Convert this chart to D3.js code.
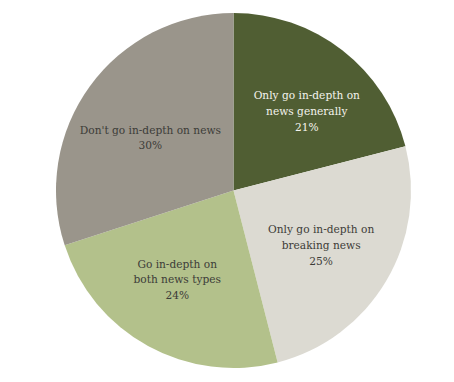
<!DOCTYPE html>
<html>
<head>
<meta charset="utf-8">
<script src="https://cdn.jsdelivr.net/npm/d3@7"></script>
<style>
  html, body { margin: 0; padding: 0; background: #ffffff; }
  svg { display: block; }
</style>
</head>
<body>
<svg id="chart" width="454" height="382"></svg>
<script>
const categories = [
  ["Only go in-depth on", "news generally"],
  ["Only go in-depth on", "breaking news"],
  ["Go in-depth on", "both news types"],
  ["Don't go in-depth on news"]
];
const values = [21, 25, 24, 30];
const colors = ["#505e33", "#dcdad2", "#b3c18b", "#9a958b"];
const textColors = ["#f4f4ee", "#3c3c38", "#3c3c38", "#3c3c38"];
// small label nudges (styling), in px
const labelNudge = [[8, 4], [-4, 0], [-5, -5], [3, 9]];

const W = 454, H = 382;
const cx = 233.5, cy = 190.5, R = 177.5;

const svg = d3.select("#chart");
const g = svg.append("g").attr("transform", `translate(${cx},${cy})`);

const data = values.map((v, i) => ({ value: v, label: categories[i], i }));
const pie = d3.pie().value(d => d.value).sort(null);
const arc = d3.arc().innerRadius(0).outerRadius(R);
const labelArc = d3.arc().innerRadius(0).outerRadius(R * 1.2);

const arcs = pie(data);

g.selectAll("path.slice").data(arcs).enter().append("path")
  .attr("class", "slice")
  .attr("d", arc)
  .attr("fill", d => colors[d.data.i]);

const lineH = 15.8;
const labels = g.selectAll("text.lbl").data(arcs).enter().append("text")
  .attr("class", "lbl")
  .attr("text-anchor", "middle")
  .attr("font-family", "'DejaVu Serif Condensed', 'DejaVu Serif', serif")
  .attr("font-size", "11.8px")
  .attr("fill", d => textColors[d.data.i])
  .attr("transform", d => {
    const [x, y] = labelArc.centroid(d);
    const [nx, ny] = labelNudge[d.data.i];
    return `translate(${x + nx},${y + ny})`;
  });

labels.each(function(d) {
  const lines = d.data.label.concat([d.data.value + "%"]);
  const n = lines.length;
  const t = d3.select(this);
  lines.forEach((ln, k) => {
    t.append("tspan")
      .attr("x", 0)
      .attr("y", (k - (n - 1) / 2) * lineH + 4.5)
      .text(ln);
  });
});
</script>
</body>
</html>
